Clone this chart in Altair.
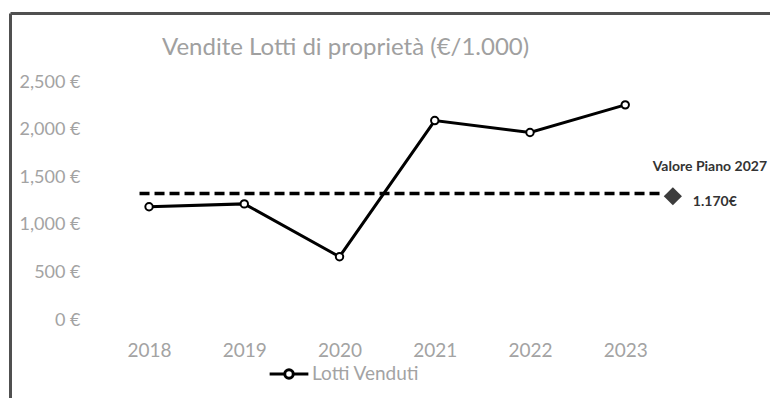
import altair as alt
import pandas as pd

# ---- data ----
years = [2018, 2019, 2020, 2021, 2022, 2023]
vendite = [1190, 1220, 665, 2095, 1970, 2260]
serie_name = "Lotti Venduti"

piano_x = [2017.9, 2023.4]
piano_y = [1330, 1330]

target_year = [2023.5]
target_value = [1300]
target_title = ["Valore Piano 2027"]
target_label = ["1.170€"]

y_ticks = [0, 500, 1000, 1500, 2000, 2500]
x_domain = [2016.54, 2024.52]
y_domain = [-819, 3225]

title_text = "Vendite Lotti di proprietà (€/1.000)"

# ---- tables ----
df_line = pd.DataFrame({"anno": years, "valore": vendite, "serie": [serie_name] * len(years)})
df_piano = pd.DataFrame({"anno": piano_x, "valore": piano_y})
df_target = pd.DataFrame({"anno": target_year, "valore": target_value,
                          "t1": target_title, "t2": target_label})

FONT = "Lato"
GRAY = "#a3a3a3"
FRAME = "#505050"

x_enc = alt.X(
    "anno:Q",
    scale=alt.Scale(domain=x_domain, nice=False, zero=False),
    axis=alt.Axis(orient="top", values=years, format="d", title=None,
                  ticks=False, tickSize=0, labelPadding=-337, labelBaseline="middle",
                  labelFlush=False, labelOverlap=False, labelFont=FONT, labelFontSize=19,
                  labelColor=GRAY, domainColor=FRAME, domainWidth=3, grid=False),
)
y_enc = alt.Y(
    "valore:Q",
    scale=alt.Scale(domain=y_domain, nice=False, zero=False),
    axis=alt.Axis(orient="left", values=y_ticks, title=None,
                  labelExpr="format(datum.value, ',') + ' €'",
                  ticks=False, tickSize=0, labelPadding=-70, labelOverlap=False,
                  labelFont=FONT, labelFontSize=18, labelColor=GRAY,
                  domainColor=FRAME, domainWidth=3, grid=False),
)

line = alt.Chart(df_line).mark_line(strokeWidth=3).encode(
    x=x_enc, y=y_enc,
    color=alt.Color("serie:N",
                    scale=alt.Scale(domain=[serie_name], range=["black"]),
                    legend=alt.Legend(
                        title=None, orient="none", legendX=258, legendY=340,
                        symbolType="M-1,0H-0.22M0.22,0H1M0.22,0A0.22,0.22,0,1,1,-0.22,0A0.22,0.22,0,1,1,0.22,0Z",
                        symbolSize=1500, symbolStrokeWidth=3, symbolFillColor="white",
                        symbolStrokeColor="black", labelFont=FONT, labelFontSize=19,
                        labelColor=GRAY, labelOffset=2, padding=0)),
)

points = alt.Chart(df_line).mark_point(
    filled=True, fill="white", stroke="black", strokeWidth=2, size=55, opacity=1
).encode(x=x_enc, y=y_enc)

piano = alt.Chart(df_piano).mark_line(
    strokeWidth=3.5, strokeDash=[10, 5], color="black"
).encode(x=x_enc, y=y_enc)

diamond = alt.Chart(df_target).mark_point(
    shape="diamond", filled=True, color="#3c3c3c", size=330, opacity=1
).encode(x=x_enc, y=y_enc)

t1 = alt.Chart(df_target).mark_text(
    font=FONT, fontSize=14, fontWeight="bold", color="#333333",
    align="center", baseline="middle", dx=37, dy=-29
).encode(x=x_enc, y=y_enc, text="t1:N")

t2 = alt.Chart(df_target).mark_text(
    font=FONT, fontSize=14, fontWeight="bold", color="#333333",
    align="left", baseline="middle", dx=20, dy=6
).encode(x=x_enc, y=y_enc, text="t2:N")

chart = alt.layer(piano, line, points, diamond, t1, t2).properties(
    width=760, height=385,
    padding={"left": 2, "top": 5, "right": 0, "bottom": 0},
    title=alt.TitleParams(title_text, anchor="start", dx=152, offset=-47,
                          baseline="top", font=FONT, fontSize=24,
                          fontWeight="normal", color="#a0a0a0"),
).configure_view(stroke=None)

chart.save("out.html", embed_options={"renderer": "svg", "actions": False})
